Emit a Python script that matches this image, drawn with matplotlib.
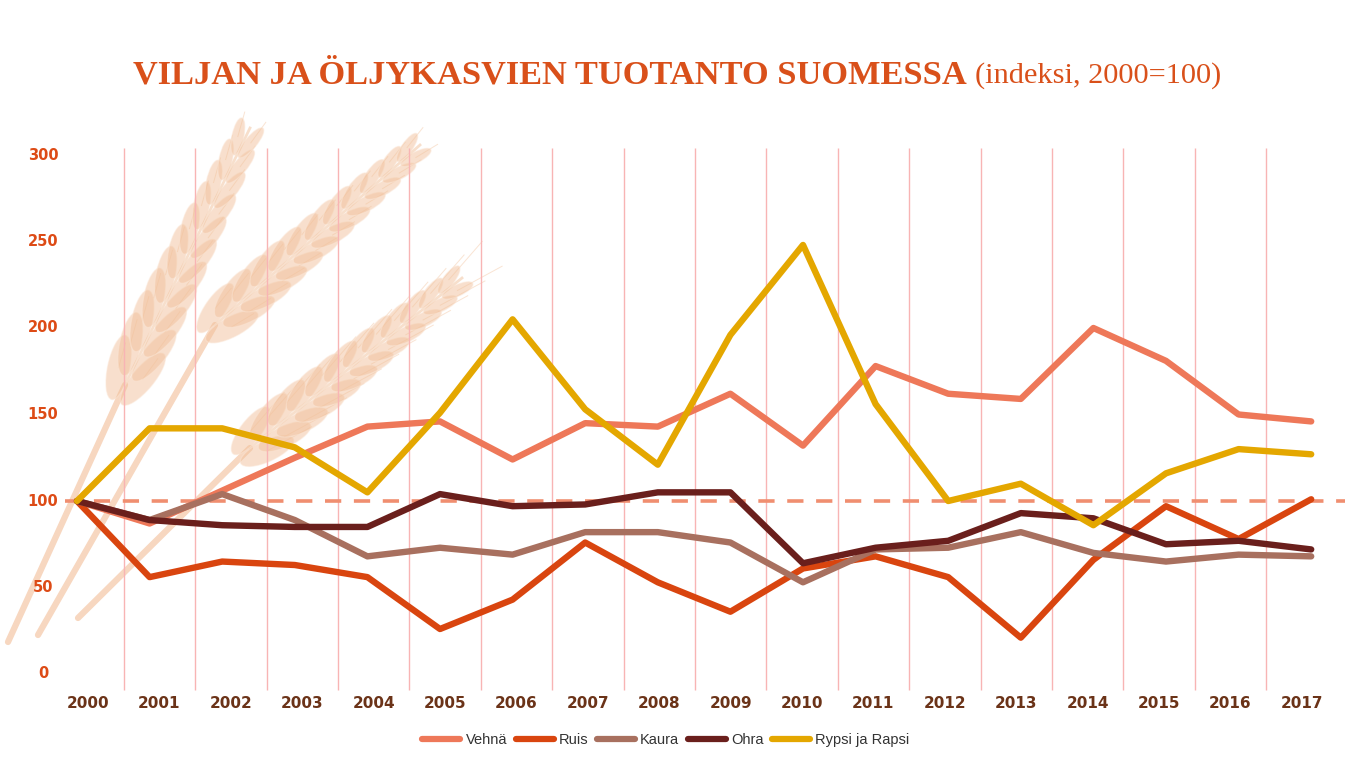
import numpy as np
import matplotlib
matplotlib.use("Agg")
import matplotlib.pyplot as plt
from matplotlib.patches import Ellipse

# --- data (index, 2000 = 100) ---
years = list(range(2000, 2018))
vehna = [100, 87, 106, 125, 143, 146, 124, 145, 143, 162, 132, 178, 162, 159, 200, 181, 150, 146]
ruis = [100, 56, 65, 63, 56, 26, 43, 76, 53, 36, 61, 68, 56, 21, 66, 97, 78, 101]
kaura = [100, 89, 104, 89, 68, 73, 69, 82, 82, 76, 53, 72, 73, 82, 70, 65, 69, 68]
ohra = [100, 89, 86, 85, 85, 104, 97, 98, 105, 105, 64, 73, 77, 93, 90, 75, 77, 72]
rypsi = [100, 142, 142, 131, 105, 151, 205, 153, 121, 196, 248, 156, 100, 110, 86, 116, 130, 127]

series_names = ["Vehnä", "Ruis", "Kaura", "Ohra", "Rypsi ja Rapsi"]
series_values = [vehna, ruis, kaura, ohra, rypsi]
series_colors = ["#EE7859", "#D9450F", "#A8705F", "#6A1F1C", "#E4A700"]

y_ticks = [0, 50, 100, 150, 200, 250, 300]

# --- layout in pixels (1366 x 768) ---
W, H = 1366, 768
X_2000, PX_YEAR = 77, 72.6      # pixel x of year 2000, pixels per year
Y_ZERO, PX_UNIT = 674, 1.73     # pixel y of value 0, pixels per index unit

fig = plt.figure(figsize=(W / 100, H / 100), dpi=100)
fig.patch.set_facecolor("white")

# background layer for the wheat decoration (pixel coordinates)
bg = fig.add_axes([0, 0, 1, 1], zorder=0)
bg.set_xlim(0, W)
bg.set_ylim(H, 0)
bg.axis("off")


def wheat(ax, stalk_start, base, tip, n=12, width=40, awn=0.0):
    sx, sy = stalk_start
    bx, by = base
    tx, ty = tip
    ax.plot([sx, bx], [sy, by], color="#F7D7C0", lw=4.5,
            solid_capstyle="round", zorder=1)
    dx, dy = tx - bx, ty - by
    length = np.hypot(dx, dy)
    ux, uy = dx / length, dy / length
    px, py = -uy, ux
    ang = np.degrees(np.arctan2(dy, dx))
    ax.plot([bx, tx], [by, ty], color="#F3CBAA", lw=2, alpha=0.6, zorder=1)
    step = length / n
    for k in range(n):
        t = (k + 0.5) / n
        taper = 1 - 0.5 * t ** 1.5
        cx, cy = bx + dx * t, by + dy * t
        for side in (-1, 1):
            off = width * 0.26 * taper * side
            ex, ey = cx + px * off, cy + py * off
            ax.add_patch(Ellipse((ex, ey), width=step * 2.3 * taper + 6,
                                 height=width * 0.42 * taper,
                                 angle=ang + 14 * side, facecolor="#F2C19C",
                                 edgecolor="#FBE6D6", lw=0.9, alpha=0.5,
                                 zorder=2))
            if awn > 0:
                ax.plot([ex, ex + (ux + px * side * 0.18) * awn],
                        [ey, ey + (uy + py * side * 0.18) * awn],
                        color="#F6D2B6", lw=0.7, alpha=0.6, zorder=1)


wheat(bg, (8, 642), (125, 385), (250, 128), n=11, width=52, awn=25)
wheat(bg, (38, 635), (215, 325), (420, 145), n=12, width=48, awn=25)
wheat(bg, (78, 618), (250, 448), (462, 278), n=12, width=50, awn=50)

# main chart layer covering the whole figure, limits chosen to match pixel mapping
ax = fig.add_axes([0, 0, 1, 1], zorder=1)
ax.patch.set_alpha(0)
ax.set_xlim(2000 - X_2000 / PX_YEAR, 2000 + (W - X_2000) / PX_YEAR)
ax.set_ylim(-(H - Y_ZERO) / PX_UNIT, Y_ZERO / PX_UNIT)
ax.axis("off")

# year label positions (labels sit slightly off the data points in the original)
label_x = 2000 + 11 / PX_YEAR + np.arange(len(years)) * (71.4 / PX_YEAR)
grid_x = (label_x[:-1] + label_x[1:]) / 2
ax.vlines(grid_x, -9, 304, color="#F8B4B4", lw=1, zorder=1)

# 100 reference line
ax.axhline(100, xmin=65 / W, xmax=1345 / W, color="#F08E70", lw=2.6,
           dashes=(4.5, 3.5), zorder=2)

for name, vals, col in zip(series_names, series_values, series_colors):
    ax.plot(years, vals, color=col, lw=4.6, label=name, zorder=3,
            solid_capstyle="round", solid_joinstyle="round")

for v in y_ticks:
    ax.text(2000 - 34 / PX_YEAR, v, str(v), ha="center", va="center",
            fontsize=10.5, fontweight="bold", color="#DD4B16",
            family="DejaVu Sans")

for lx, yr in zip(label_x, years):
    ax.text(lx, -(703 - Y_ZERO) / PX_UNIT, str(yr), ha="center", va="center",
            fontsize=11, fontweight="bold", color="#6B3318",
            family="DejaVu Sans")

# title: bold serif + regular part, sized to the original widths
fig.canvas.draw()
renderer = fig.canvas.get_renderer()
t1 = fig.text(133 / W, 1 - 83 / H, "VILJAN JA ÖLJYKASVIEN TUOTANTO SUOMESSA",
              ha="left", va="baseline", fontsize=26, fontweight="bold",
              family="Liberation Serif", color="#D9501A")
w1 = t1.get_window_extent(renderer).width
t1.set_fontsize(26 * 832 / w1)
ext = t1.get_window_extent(renderer)
t2 = fig.text((ext.x1 + 8) / W, 1 - 83 / H, "(indeksi, 2000=100)",
              ha="left", va="baseline", fontsize=20, family="Liberation Serif",
              color="#D9501A")
w2 = t2.get_window_extent(renderer).width
t2.set_fontsize(20 * 246 / w2)

leg = fig.legend(loc="center", bbox_to_anchor=(666 / W, 1 - 740 / H), ncol=5,
                 frameon=False, handlelength=2.6, handletextpad=0.35,
                 columnspacing=0.6, prop={"family": "Liberation Sans", "size": 10.5})
for line in leg.get_lines():
    line.set_linewidth(4.5)
    line.set_solid_capstyle("round")
for txt in leg.get_texts():
    txt.set_color("#333333")

fig.savefig("out.png", dpi=100, facecolor="white")
